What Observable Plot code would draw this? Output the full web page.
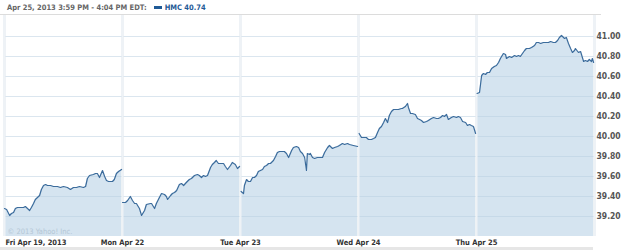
<!DOCTYPE html>
<html><head><meta charset="utf-8">
<script src="https://cdn.jsdelivr.net/npm/d3@7"></script>
<script src="https://cdn.jsdelivr.net/npm/@observablehq/plot@0.6"></script>
<style>
body{margin:0;background:#fff;width:625px;height:250px;overflow:hidden;font-family:"DejaVu Sans Condensed","DejaVu Sans",sans-serif;font-stretch:condensed}
#hdr{height:14px;border-bottom:1px solid #dcdcdc;font-size:7.5px;font-weight:bold;color:#666;line-height:15px;padding-left:7px;white-space:nowrap;width:594px;box-sizing:content-box}
#hdr .sw{display:inline-block;width:8px;height:3px;background:#1f5a96;vertical-align:middle;margin:0 3px 1px 7px}
#hdr .q{color:#1f5a96}
#band{width:593px;height:3px;background:#e6e6e6}
svg{display:block}
svg text{font-stretch:condensed}
</style></head><body>
<div id="hdr"></div>
<div id="chart"></div>
<div id="band"></div>
<script>
const headerText = "Apr 25, 2013 3:59 PM - 4:04 PM EDT:";
const symbolText = "HMC 40.74";
const dayLabels = ["Fri Apr 19, 2013", "Mon Apr 22", "Tue Apr 23", "Wed Apr 24", "Thu Apr 25"];
const yTicks = [39.2, 39.4, 39.6, 39.8, 40.0, 40.2, 40.4, 40.6, 40.8, 41.0];
const sessionMinutes = 390;
const yDomain = [39.0, 41.21];

const friMin = [0,7,17,23,30,36,43,50,56,63,69,76,83,89,96,102,109,116,122,129,136,142,152,162,175,185,195,208,218,228,238,248,261,268,274,281,294,301,307,314,324,331,337,344,357,363,370,377,387];
const friPx  = [39.28,39.27,39.21,39.23,39.24,39.28,39.29,39.29,39.29,39.29,39.30,39.28,39.26,39.29,39.33,39.37,39.39,39.41,39.47,39.51,39.52,39.51,39.51,39.50,39.50,39.49,39.50,39.49,39.47,39.49,39.49,39.50,39.49,39.50,39.58,39.61,39.62,39.63,39.63,39.59,39.66,39.60,39.56,39.55,39.55,39.57,39.63,39.65,39.67];

const monMin = [0,10,17,26,33,40,46,56,63,73,79,93,96,106,112,122,129,139,145,149,159,165,172,179,188,195,202,211,221,228,238,248,254,261,268,274,281,291,297,304,310,317,324,334,340,347,357,363,373,380,387];
const monPx  = [39.34,39.34,39.36,39.40,39.36,39.33,39.33,39.28,39.21,39.26,39.32,39.33,39.33,39.28,39.33,39.39,39.43,39.42,39.40,39.37,39.41,39.43,39.44,39.46,39.52,39.53,39.51,39.54,39.57,39.58,39.61,39.62,39.61,39.59,39.61,39.60,39.61,39.69,39.72,39.74,39.76,39.73,39.73,39.73,39.70,39.67,39.71,39.74,39.72,39.68,39.70];

const tueMin = [2,10,13,20,26,33,40,46,53,59,66,73,79,86,93,99,109,116,122,129,139,145,152,159,162,169,175,185,192,198,205,212,218,221,228,231,238,245,254,261,271,278,288,294,304,311,321,327,337,344,354,360,373,387];
const tuePx  = [39.45,39.43,39.51,39.57,39.55,39.55,39.59,39.59,39.61,39.65,39.66,39.67,39.70,39.71,39.73,39.73,39.76,39.80,39.84,39.85,39.85,39.85,39.83,39.79,39.81,39.86,39.89,39.90,39.89,39.85,39.83,39.79,39.66,39.83,39.82,39.83,39.79,39.78,39.79,39.79,39.79,39.84,39.89,39.91,39.88,39.89,39.90,39.91,39.93,39.92,39.93,39.92,39.91,39.90];

const wedMin = [2,10,17,26,33,43,50,56,63,69,76,83,89,96,102,109,116,126,132,142,145,155,162,165,172,178,188,195,202,208,215,225,231,241,248,258,264,271,278,284,291,297,307,314,324,330,337,344,354,360,367,373,380,387];
const wedPx  = [40.03,39.99,39.99,39.99,39.97,39.97,39.98,39.99,40.04,40.08,40.10,40.14,40.18,40.14,40.21,40.25,40.27,40.27,40.27,40.28,40.28,40.30,40.33,40.29,40.23,40.23,40.22,40.18,40.17,40.16,40.14,40.15,40.16,40.18,40.19,40.18,40.18,40.19,40.21,40.20,40.22,40.17,40.19,40.20,40.19,40.20,40.19,40.15,40.14,40.11,40.12,40.11,40.10,40.03];

const thuMin = [2,10,17,23,30,36,43,50,59,66,73,79,89,96,99,109,116,126,132,139,145,152,159,165,175,182,192,198,205,212,221,228,238,245,254,261,268,274,281,291,297,304,311,317,324,327,337,344,354,360,367,373,380,383,387];
const thuPx  = [40.43,40.44,40.61,40.63,40.62,40.64,40.64,40.68,40.70,40.71,40.74,40.78,40.83,40.82,40.78,40.80,40.79,40.81,40.80,40.81,40.80,40.83,40.86,40.88,40.88,40.89,40.91,40.94,40.94,40.93,40.94,40.94,40.94,40.95,40.94,40.94,40.96,40.99,41.01,40.98,40.99,40.93,40.88,40.84,40.86,40.88,40.84,40.85,40.75,40.76,40.75,40.77,40.75,40.78,40.74];

const days = [[friMin, friPx], [monMin, monPx], [tueMin, tuePx], [wedMin, wedPx], [thuMin, thuPx]];
const data = days.flatMap(([mins, pxs], d) => mins.map((m, i) => ({day: d, t: d + m / sessionMinutes, v: pxs[i]})));
const dayIdx = dayLabels.map((_, i) => i);
const bounds = [...dayIdx, dayLabels.length];

document.getElementById("hdr").innerHTML = headerText + '<span class="sw"></span><span class="q">' + symbolText + '</span>';

const font = '"DejaVu Sans Condensed", "DejaVu Sans", sans-serif';
const chart = Plot.plot({
  width: 625, height: 232,
  marginLeft: 4, marginRight: 31, marginTop: 0, marginBottom: 11,
  style: {fontFamily: font, fontSize: "8px", background: "transparent", overflow: "visible"},
  x: {domain: [0, dayLabels.length], axis: null},
  y: {domain: yDomain, axis: null},
  marks: [
    Plot.ruleX(bounds, {stroke: "#dde4eb", strokeWidth: 2}),
    Plot.areaY(data, {x: "t", y1: () => yDomain[0], y2: "v", z: "day", fill: "#d5e4f0", curve: "linear"}),
    Plot.ruleY(yTicks, {stroke: "#b8cde0", strokeOpacity: 0.5, strokeWidth: 1.2}),
    Plot.ruleX(bounds, {stroke: "#eef2f6", strokeWidth: 2}),
    Plot.lineY(data, {x: "t", y: "v", z: "day", stroke: "#3c6c9c", strokeWidth: 1.2}),
    Plot.text(["\u00a9 2013 Yahoo! Inc."], {frameAnchor: "bottom-left", dx: 3, dy: -3, fill: "#b4c6d6", fontSize: 7.5, textAnchor: "start", lineAnchor: "bottom"}),
    Plot.axisY({anchor: "right", label: null, ticks: yTicks, tickFormat: d3.format(".2f"), tickSize: 0, tickPadding: 2, fontWeight: "bold", fill: "#555", fontSize: 8.5, textAnchor: "start"}),
    Plot.axisX({label: null, ticks: [0], tickFormat: i => dayLabels[i], tickSize: 0, tickPadding: 3, fontWeight: "bold", fill: "#333", fontSize: 7.5, textAnchor: "start", dx: 1}),
    Plot.axisX({label: null, ticks: dayIdx.slice(1), tickFormat: i => dayLabels[i], tickSize: 0, tickPadding: 3, fontWeight: "bold", fill: "#333", fontSize: 7.5})
  ]
});
document.getElementById("chart").append(chart);
</script>
</body></html>
